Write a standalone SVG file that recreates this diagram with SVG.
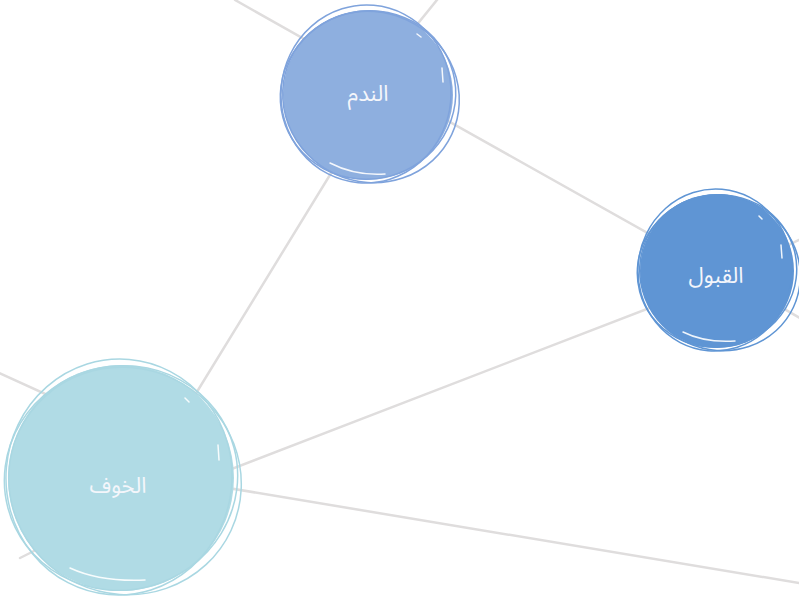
<svg xmlns="http://www.w3.org/2000/svg" width="799" height="603" viewBox="0 0 799 603">
<style>
.edge{stroke:#dfdddd;stroke-width:2.5;fill:none;stroke-linecap:round}
.sk{fill:none;stroke-width:1.5}
.hl{fill:none;stroke:#ffffff;stroke-width:1.5;stroke-linecap:round;opacity:0.9}
.lbl{font-family:"Noto Sans Arabic","Noto Naskh Arabic","DejaVu Sans",sans-serif;font-size:22px;fill:#f4f6fb;text-anchor:middle;dominant-baseline:central}
</style>
<rect width="799" height="603" fill="#ffffff"/>
<g id="connectors">
<line class="edge" x1="235" y1="0" x2="368" y2="75"/>
<line class="edge" x1="441" y1="-5" x2="368" y2="85"/>
<line class="edge" x1="368" y1="76" x2="717" y2="272"/>
<line class="edge" x1="379" y1="95" x2="141" y2="483"/>
<line class="edge" x1="717" y1="282" x2="120" y2="512"/>
<line class="edge" x1="120" y1="470" x2="805" y2="584"/>
<line class="edge" x1="-5" y1="371" x2="120" y2="428"/>
<line class="edge" x1="120" y1="508" x2="20" y2="558"/>
<line class="edge" x1="717" y1="280" x2="805" y2="237"/>
<line class="edge" x1="717" y1="270" x2="805" y2="321"/>
</g>
<g id="node-nadam">
<circle cx="368" cy="95" r="85" fill="#8eafdf"/>
<ellipse class="sk" stroke="#7fa3dc" cx="368" cy="95" rx="88" ry="84" transform="rotate(-15 368 95)"/>
<ellipse class="sk" stroke="#7fa3dc" cx="371" cy="97" rx="89" ry="85" transform="rotate(25 371 97)"/>
<ellipse class="sk" stroke="#7fa3dc" cx="366" cy="94" rx="85" ry="89" transform="rotate(5 366 94)"/>
<path class="hl" d="M417 34 L421 37 M442 68 L443 82 M330 163 Q355 176 385 174"/>
<text class="lbl" x="368" y="94">الندم</text>
</g>
<g id="node-qabool">
<circle cx="717" cy="271" r="77" fill="#5f95d4"/>
<ellipse class="sk" stroke="#5f95d4" cx="717" cy="271" rx="80" ry="76" transform="rotate(-15 717 271)"/>
<ellipse class="sk" stroke="#5f95d4" cx="720" cy="273" rx="81" ry="77" transform="rotate(25 720 273)"/>
<ellipse class="sk" stroke="#5f95d4" cx="715" cy="270" rx="77" ry="81" transform="rotate(5 715 270)"/>
<path class="hl" d="M759 216 L762 219 M781 245 L782 258 M683 332 Q705 343 735 341"/>
<text class="lbl" x="716" y="276">القبول</text>
</g>
<g id="node-khawf">
<circle cx="121" cy="478" r="113" fill="#b0dbe5"/>
<ellipse class="sk" stroke="#a9d7e2" cx="121" cy="478" rx="117" ry="112" transform="rotate(-15 121 478)"/>
<ellipse class="sk" stroke="#a9d7e2" cx="125" cy="481" rx="117" ry="113" transform="rotate(25 125 481)"/>
<ellipse class="sk" stroke="#a9d7e2" cx="119" cy="477" rx="113" ry="118" transform="rotate(5 119 477)"/>
<path class="hl" d="M185 398 L189 402 M218 445 L219 460 M70 568 Q100 582 145 580"/>
<text class="lbl" x="118" y="486">الخوف</text>
</g>
</svg>
